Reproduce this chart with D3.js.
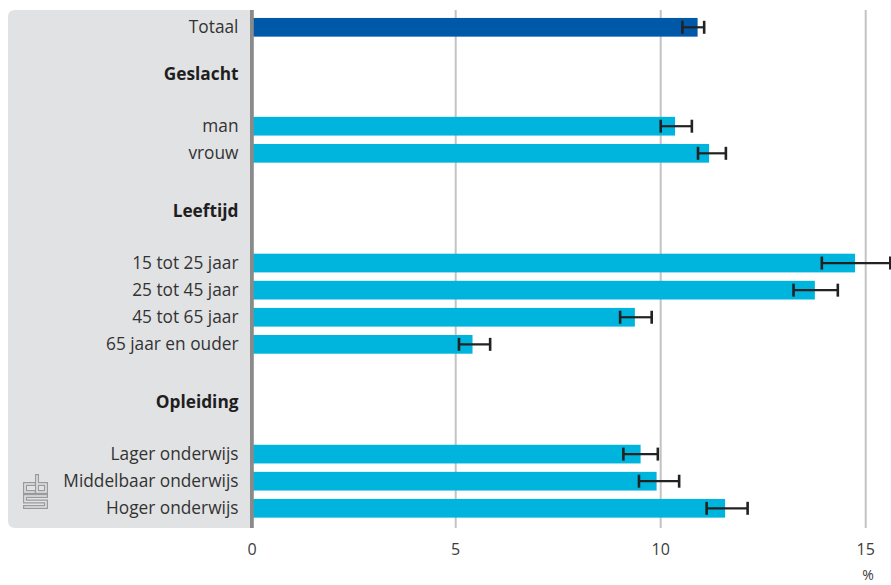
<!DOCTYPE html>
<html>
<head>
<meta charset="utf-8">
<script src="https://cdn.jsdelivr.net/npm/d3@7"></script>
<style>
  html, body { margin: 0; padding: 0; background: #fff; }
  svg { display: block; font-family: "Open Sans", "Noto Sans", sans-serif; }
</style>
</head>
<body>
<svg id="chart" width="891" height="585"></svg>
<script>
// ---- data ----
const categories = ["Totaal", "man", "vrouw", "15 tot 25 jaar", "25 tot 45 jaar", "45 tot 65 jaar", "65 jaar en ouder", "Lager onderwijs", "Middelbaar onderwijs", "Hoger onderwijs"];
const groupOf = [null, "Geslacht", "Geslacht", "Leeftijd", "Leeftijd", "Leeftijd", "Leeftijd", "Opleiding", "Opleiding", "Opleiding"];
const values = [10.9, 10.35, 11.18, 14.74, 13.76, 9.37, 5.41, 9.51, 9.9, 11.57];
const lower  = [10.53, 10.0, 10.91, 13.93, 13.24, 9.01, 5.08, 9.09, 9.47, 11.12];
const upper  = [11.06, 10.76, 11.59, 15.6, 14.32, 9.78, 5.84, 9.93, 10.45, 12.12];
const xTicks = [0, 5, 10, 15];
const unitLabel = "%";

(function () {
// ---- layout (rows computed from the group structure) ----
const rows = [];
let slot = 0, prevGroup = null, firstGroup = true;
categories.forEach((c, i) => {
  const g = groupOf[i];
  if (g !== prevGroup && g !== null) {
    slot += firstGroup ? 1.72 : 2.12;
    rows.push({ type: "header", label: g, slot });
    slot += 1.93;
    firstGroup = false;
  } else if (i > 0) {
    slot += 1;
  }
  rows.push({ type: "bar", label: c, i, slot });
  prevGroup = g;
});
const lastSlot = slot;

const svg = d3.select("#chart");
const plotTop = 10, plotBottom = 528, panelLeft = 8;
const x = d3.scaleLinear().domain([0, 15]).range([250.7, 865.7]);
const y = d3.scaleLinear().domain([0, lastSlot]).range([27.3, 508.3]);
const unit = (y(lastSlot) - y(0)) / lastSlot;
const barH = unit * 0.69;

// grey label panel (left corners rounded)
const r = 7, pr = x(0);
svg.append("path")
  .attr("d", `M${pr},${plotTop} H${panelLeft + r} Q${panelLeft},${plotTop} ${panelLeft},${plotTop + r} V${plotBottom - r} Q${panelLeft},${plotBottom} ${panelLeft + r},${plotBottom} H${pr} Z`)
  .attr("fill", "#e1e2e4");

// gridlines
svg.append("g").selectAll("line").data(xTicks.filter(t => t > 0)).join("line")
  .attr("x1", d => x(d)).attr("x2", d => x(d))
  .attr("y1", plotTop).attr("y2", plotBottom)
  .attr("stroke", "#c3c3c3").attr("stroke-width", 2);

// bars
const bars = rows.filter(d => d.type === "bar");
svg.append("g").selectAll("rect").data(bars).join("rect")
  .attr("x", x(0))
  .attr("y", d => y(d.slot) - barH / 2)
  .attr("width", d => x(values[d.i]) - x(0))
  .attr("height", barH)
  .attr("fill", d => d.i === 0 ? "#0058a8" : "#00b5dd");

// error bars
const eb = svg.append("g").attr("stroke", "#222").attr("stroke-width", 2.2);
bars.forEach(d => {
  const cy = y(d.slot), capH = 6.5;
  eb.append("line").attr("x1", x(lower[d.i])).attr("x2", x(upper[d.i])).attr("y1", cy).attr("y2", cy);
  [lower[d.i], upper[d.i]].forEach(v => {
    eb.append("line").attr("x1", x(v)).attr("x2", x(v)).attr("y1", cy - capH).attr("y2", cy + capH).attr("stroke-width", 2.6);
  });
});

// vertical axis line
svg.append("rect").attr("x", x(0) - 0.7).attr("y", plotTop).attr("width", 3.8).attr("height", plotBottom - plotTop).attr("fill", "#8a8a8b");

// category labels and group headers
svg.append("g").selectAll("text").data(rows).join("text")
  .attr("x", 238.5)
  .attr("y", d => y(d.slot))
  .attr("dy", "0.35em")
  .attr("text-anchor", "end")
  .attr("font-size", 17.3)
  .attr("font-weight", d => d.type === "header" ? 700 : 400)
  .attr("fill", d => d.type === "header" ? "#1e1e1e" : "#333")
  .text(d => d.label);

// x tick labels
svg.append("g").selectAll("text").data(xTicks).join("text")
  .attr("x", d => x(d) + (d === 0 ? 1.5 : 0))
  .attr("y", 549)
  .attr("dy", "0.35em")
  .attr("text-anchor", "middle")
  .attr("font-size", 16)
  .attr("fill", "#3c3c3c")
  .text(d => d);

svg.append("text").attr("x", 868).attr("y", 575).attr("dy", "0.35em")
  .attr("text-anchor", "middle").attr("font-size", 14).attr("fill", "#3c3c3c").text(unitLabel);

// CBS logo (outlined strokes)
const logo = svg.append("g").attr("fill", "none").attr("stroke-linejoin", "miter").attr("stroke-linecap", "square");
const logoPaths = [
  "M34,484 H25 V492 H34",
  "M37,476 V492 H46 V484 H37",
  "M46,496 H25 V501.5 H46 V507 H25"
];
logoPaths.forEach(p => {
  logo.append("path").attr("d", p).attr("stroke", "#9a9a9a").attr("stroke-width", 4);
});
logoPaths.forEach(p => {
  logo.append("path").attr("d", p).attr("stroke", "#e1e2e4").attr("stroke-width", 1.6);
});
})();
</script>
</body>
</html>
